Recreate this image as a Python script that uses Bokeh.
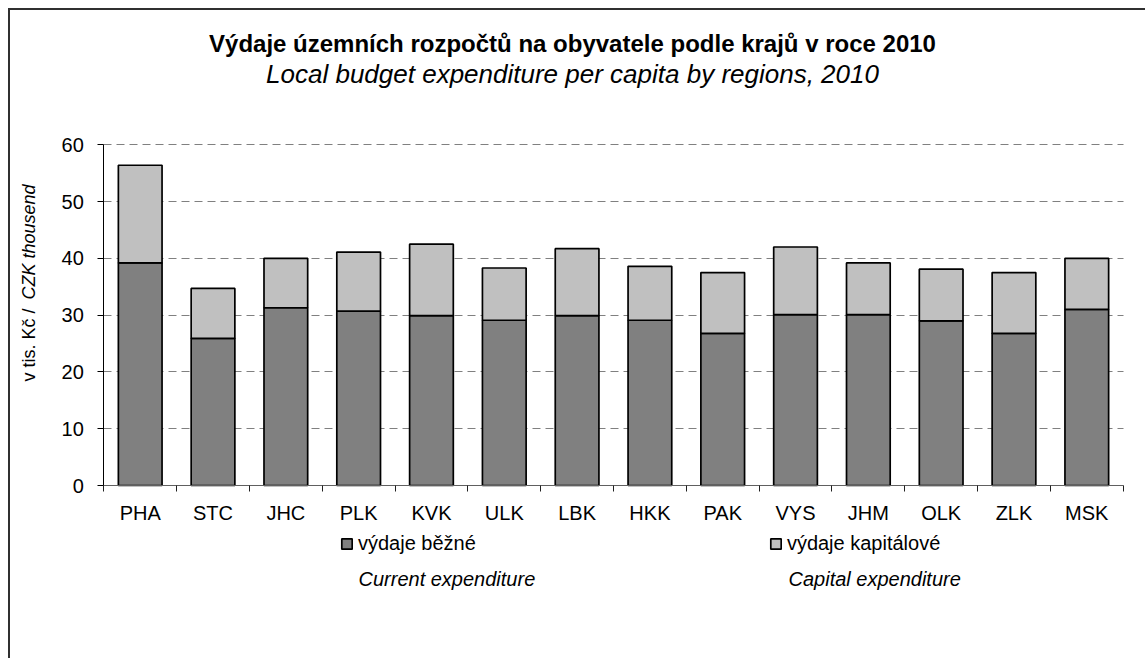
from math import pi
from bokeh.plotting import figure
from bokeh.models import (Range1d, LinearAxis, FixedTicker, Label, Legend, LegendItem,
                          ColumnDataSource, Grid)
from bokeh.embed import file_html
from bokeh.resources import INLINE

# ---------------- data ----------------
regions = ["PHA", "STC", "JHC", "PLK", "KVK", "ULK", "LBK", "HKK", "PAK", "VYS", "JHM", "OLK", "ZLK", "MSK"]
current = [39.2, 25.9, 31.3, 30.7, 29.9, 29.1, 29.9, 29.1, 26.8, 30.1, 30.1, 29.0, 26.8, 31.0]
capital = [17.2, 8.8, 8.7, 10.4, 12.6, 9.2, 11.8, 9.5, 10.7, 11.9, 9.1, 9.1, 10.7, 9.0]
y_ticks = [0, 10, 20, 30, 40, 50, 60]
series_cz = ["výdaje běžné", "výdaje kapitálové"]
series_en = ["Current expenditure", "Capital expenditure"]
title_cz = "Výdaje územních rozpočtů na obyvatele podle krajů v roce 2010"
title_en = "Local budget expenditure per capita by regions, 2010"
ylabel_cz = "v tis. Kč / "
ylabel_en = "CZK thousend"

FONT = "Liberation Sans"
DARK = "#808080"
LIGHT = "#c0c0c0"

# ---------------- layout (page pixels) ----------------
CANVAS_L, CANVAS_T = 10, 10          # after 8px margin + 2px border
W, H = 1137, 650
AX_L, AX_R = 103.3, 1122.7           # plot area left / right
AX_B, AX_T = 485.0, 144.3            # plot area bottom (0) / top (60)
n = len(regions)
ymax = y_ticks[-1]
ux = (AX_R - AX_L) / n
uy = (AX_B - AX_T) / ymax
x_start = (CANVAS_L - AX_L) / ux
x_end = (CANVAS_L + W - AX_L) / ux
y_end = (AX_B - CANVAS_T) / uy
y_start = (AX_B - (CANVAS_T + H)) / uy


def sx(px):
    return px - CANVAS_L


def sy(py):
    return CANVAS_T + H - py


p = figure(x_range=Range1d(x_start, x_end), y_range=Range1d(y_start, y_end),
           width=W, height=H, output_backend="svg", toolbar_location=None,
           x_axis_location=None, y_axis_location=None, min_border=0)
p.styles = {"margin-left": "8px", "margin-top": "8px",
            "border-left": "2px solid #303030", "border-top": "2px solid #303030"}
p.outline_line_color = None
p.background_fill_color = "white"
p.border_fill_color = "white"
p.xgrid.visible = False
p.ygrid.visible = False

# grid
grid = Grid(dimension=1, ticker=FixedTicker(ticks=y_ticks[1:]), grid_line_color="#808080",
            grid_line_dash="8 5", grid_line_width=1)
try:
    grid.cross_bounds = (0, n)
except Exception:
    pass
p.add_layout(grid)

xpos = [i + 0.5 for i in range(n)]
src = ColumnDataSource(dict(x=xpos, regions=regions, current=current, capital=capital))
rs = p.vbar_stack(["current", "capital"], x="x", width=0.6, source=src,
                  fill_color=[DARK, LIGHT], line_color="black", line_width=1.7)

# y axis
ya = LinearAxis(fixed_location=0, bounds=(0, ymax), ticker=FixedTicker(ticks=y_ticks),
                major_tick_out=6, major_tick_in=0, minor_tick_out=0, minor_tick_in=0,
                axis_line_color="black", major_tick_line_color="black",
                major_label_text_font=FONT, major_label_text_font_size="20px",
                major_label_text_color="black", major_label_standoff=14)
p.add_layout(ya, "left")

# x axis: tick marks between categories (minor ticks only, no labels)
xa_ticks = LinearAxis(fixed_location=0, bounds=(0, n),
                      ticker=FixedTicker(ticks=[], minor_ticks=list(range(n + 1))),
                      major_tick_out=0, major_tick_in=0, minor_tick_out=6, minor_tick_in=0,
                      axis_line_color="#606060", minor_tick_line_color="#202020")
p.add_layout(xa_ticks, "below")
# x axis: category labels
xa_lab = LinearAxis(fixed_location=0, bounds=(0, n), ticker=FixedTicker(ticks=xpos),
                    major_label_overrides={x: r for x, r in zip(xpos, regions)},
                    major_tick_out=0, major_tick_in=0, minor_tick_out=0, minor_tick_in=0,
                    axis_line_color=None, major_label_text_font=FONT,
                    major_label_text_font_size="20px", major_label_text_color="black",
                    major_label_standoff=16)
p.add_layout(xa_lab, "below")

# titles
p.add_layout(Label(x=sx(572), y=sy(43), x_units="screen", y_units="screen", text=title_cz,
                   text_font=FONT, text_font_style="bold", text_font_size="24px",
                   text_align="center", text_baseline="middle", text_color="black"))
p.add_layout(Label(x=sx(572), y=sy(73), x_units="screen", y_units="screen", text=title_en,
                   text_font=FONT, text_font_style="italic", text_font_size="26px",
                   text_align="center", text_baseline="middle", text_color="black"))

# y axis title (two styles)
p.add_layout(Label(x=sx(28), y=sy(381), x_units="screen", y_units="screen", text=ylabel_cz,
                   angle=pi / 2, text_font=FONT, text_font_size="18px",
                   text_align="left", text_baseline="middle", text_color="black"))
p.add_layout(Label(x=sx(28), y=sy(381 - 82), x_units="screen", y_units="screen", text=ylabel_en,
                   angle=pi / 2, text_font=FONT, text_font_style="italic", text_font_size="18px",
                   text_align="left", text_baseline="middle", text_color="black"))

# legend
legend = Legend(items=[LegendItem(label=series_cz[i], renderers=[rs[i]]) for i in range(2)],
                orientation="horizontal", location=(sx(340), sy(555)),
                glyph_width=13, glyph_height=13, label_standoff=5, spacing=293,
                padding=0, margin=0, border_line_color=None, background_fill_alpha=0,
                label_text_font=FONT, label_text_font_size="20px", label_text_color="black")
p.add_layout(legend, "center")

for i, xpx in enumerate([358, 788]):
    p.add_layout(Label(x=sx(xpx), y=sy(578), x_units="screen", y_units="screen", text=series_en[i],
                       text_font=FONT, text_font_style="italic", text_font_size="20px",
                       text_align="left", text_baseline="middle", text_color="black"))

open("out.html", "w").write(file_html(p, INLINE))
